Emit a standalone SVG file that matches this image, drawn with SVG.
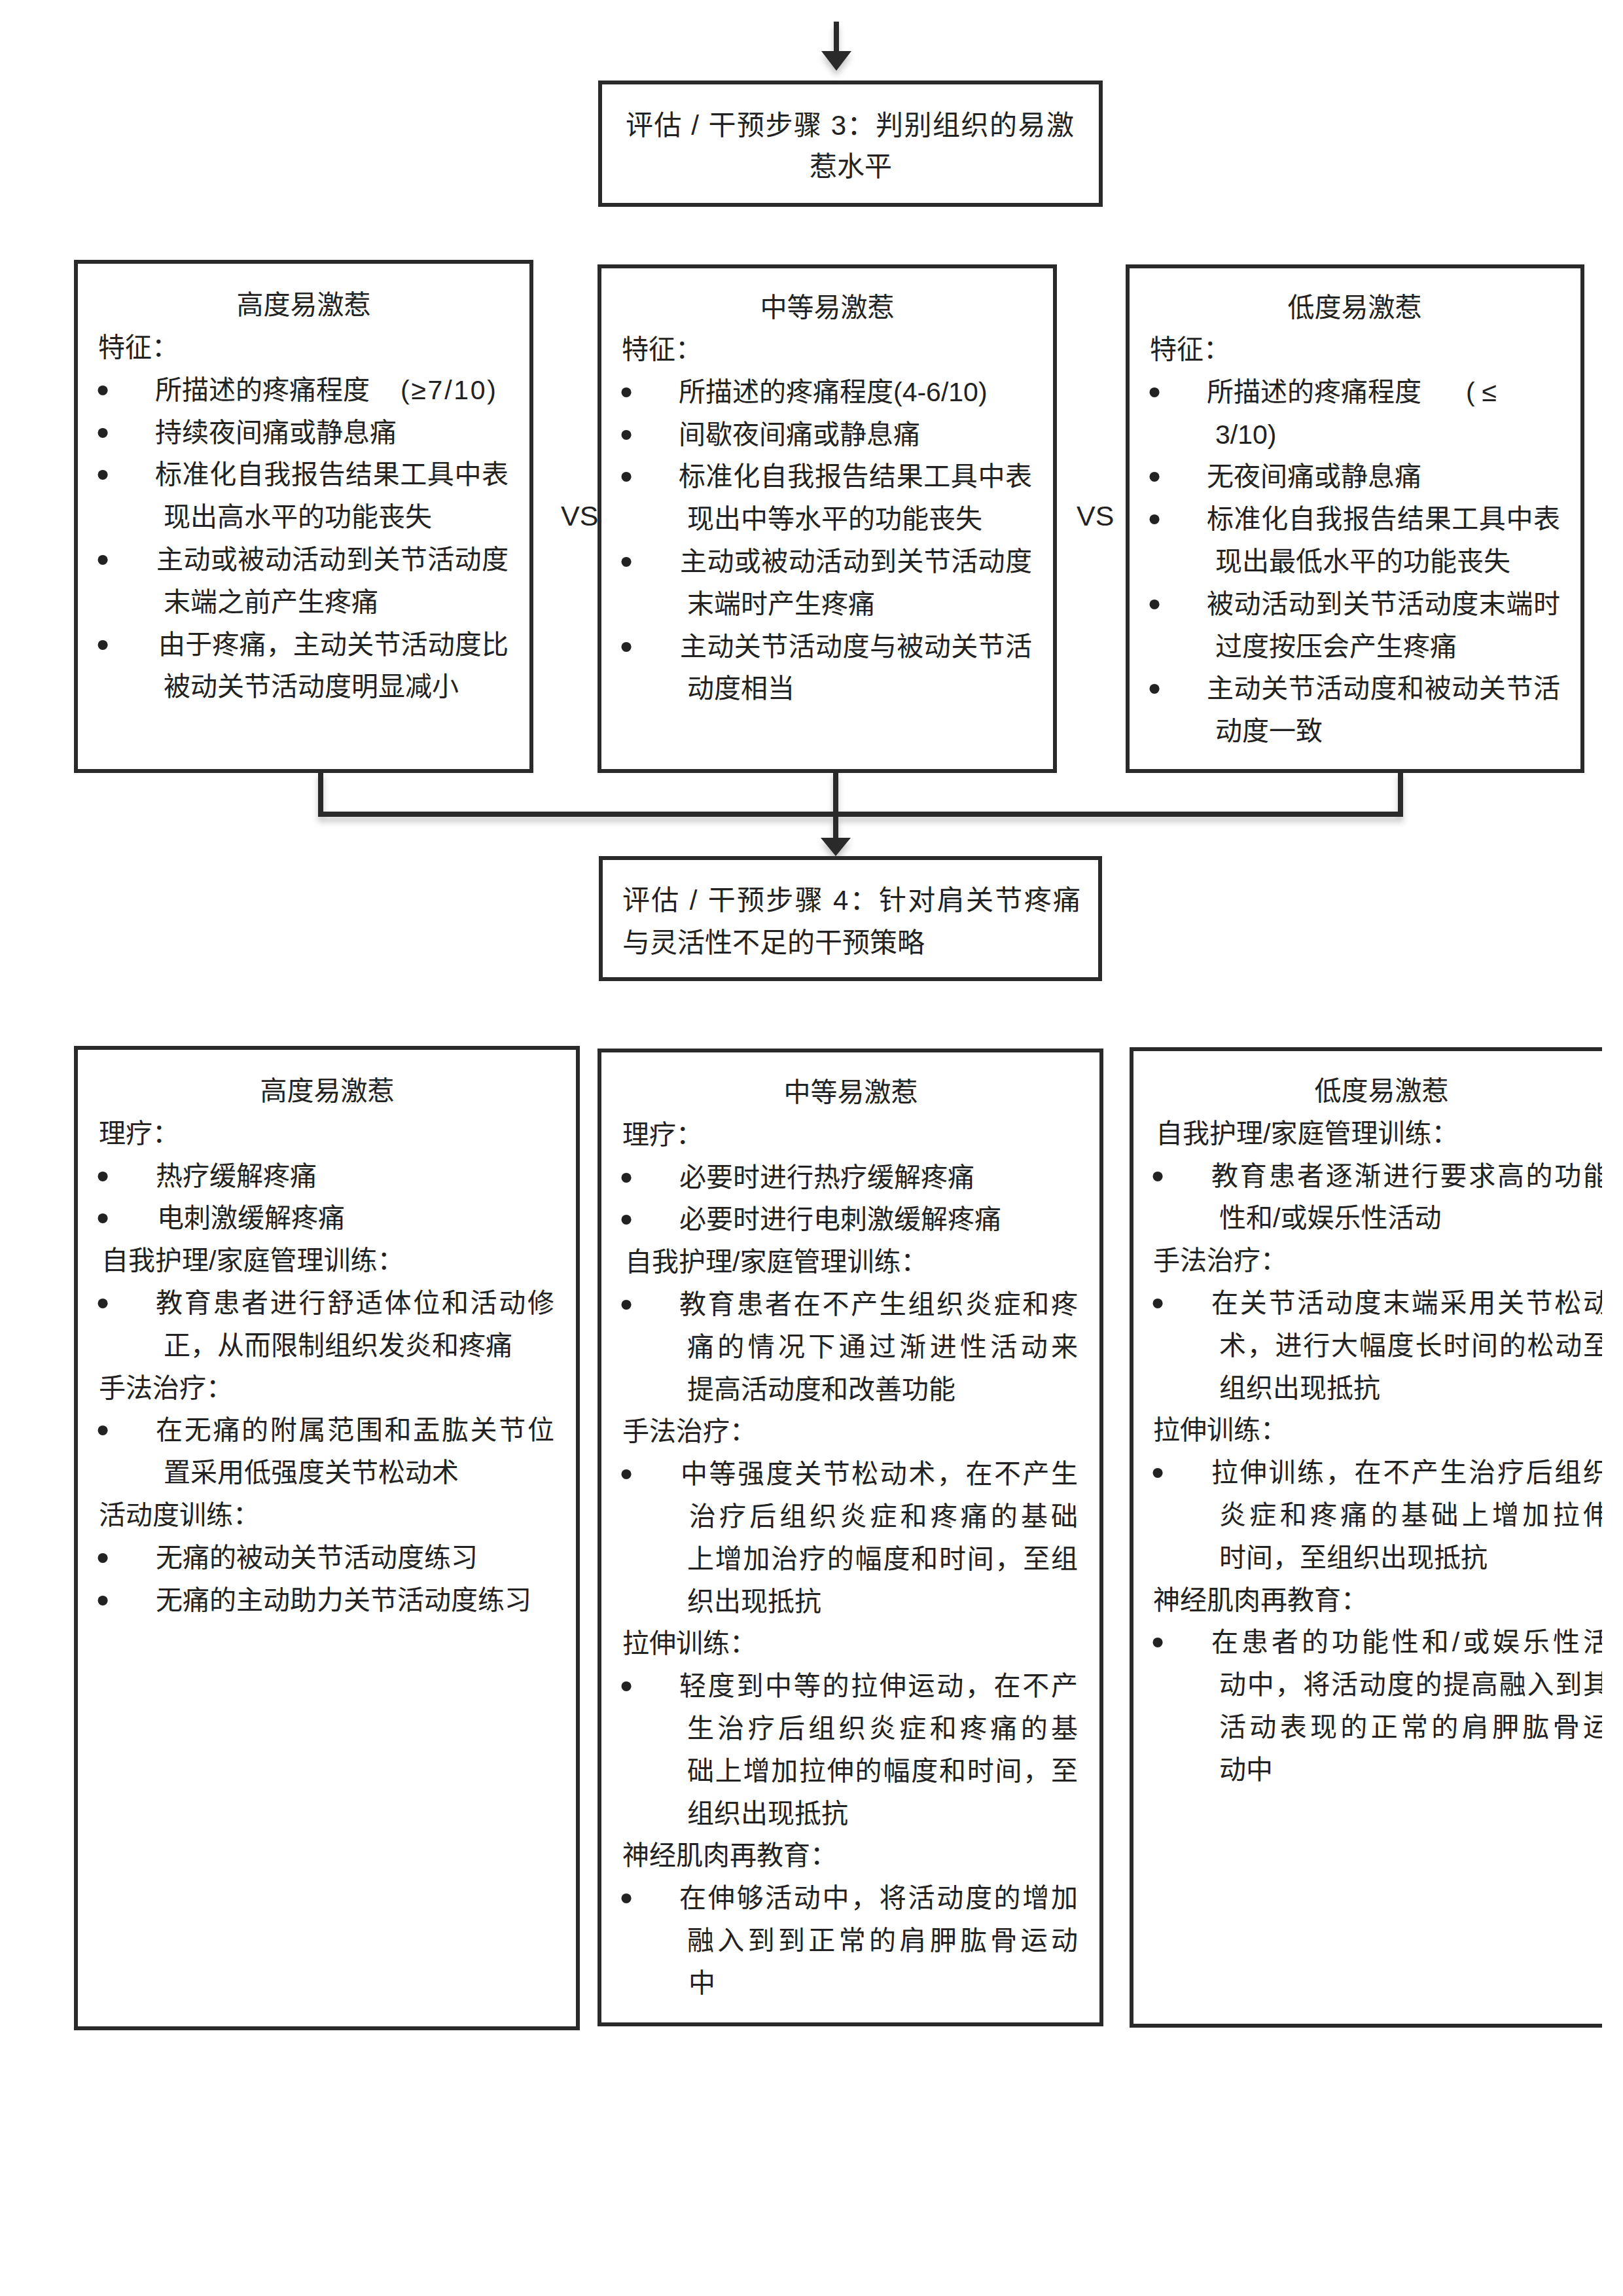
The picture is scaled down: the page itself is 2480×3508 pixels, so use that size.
<svg xmlns="http://www.w3.org/2000/svg" width="2480" height="3508" viewBox="0 0 2480 3508">
<defs>
<style>
.t{font-family:"Liberation Sans","Noto Sans CJK SC",sans-serif;font-size:41px;fill:#222;}
.h{font-size:42px;}
.m{text-anchor:middle;}
.b{font-family:"Liberation Sans",sans-serif;font-size:56px;fill:#222;text-anchor:middle;transform:translateY(5px);}
.box{fill:#fff;stroke:#2a2a2a;stroke-width:6;}
.ln{fill:none;stroke:#2a2a2a;stroke-width:8;}
.ah{fill:#2a2a2a;}
</style>
<filter id="sh" x="-20%" y="-50%" width="140%" height="300%">
<feDropShadow dx="0" dy="8" stdDeviation="5" flood-color="#000" flood-opacity="0.22"/>
</filter>
<clipPath id="pageclip"><rect x="0" y="0" width="2448" height="3508"/></clipPath>
</defs>
<rect x="0" y="0" width="2480" height="3508" fill="#fff"/>

<g id="connectors" filter="url(#sh)">
<line class="ln" x1="1278" y1="33" x2="1278" y2="80"/>
<polygon class="ah" points="1255,78 1301,78 1278,108"/>
<path class="ln" d="M490 1178 V1244 H2140 V1178"/>
<line class="ln" x1="1277" y1="1178" x2="1277" y2="1282"/>
<polygon class="ah" points="1254,1280 1300,1280 1277,1308"/>
</g>

<g id="step3">
<rect class="box" x="917" y="126" width="765" height="187"/>
<text class="t h" x="956" y="206" textLength="685" lengthAdjust="spacing">评估 / 干预步骤 3：判别组织的易激</text>
<text class="t h m" x="1300" y="269">惹水平</text>
</g>

<g id="high-char">
<rect class="box" x="116" y="400" width="696" height="778"/>
<text class="t m" x="464" y="480">高度易激惹</text>
<text class="t" x="150" y="545">特征：</text>
<text class="b" x="157" y="610">•</text>
<text class="t" y="610"><tspan x="237">所描述的疼痛程度</tspan><tspan x="612" textLength="146" lengthAdjust="spacing">(≥7/10)</tspan></text>
<text class="b" x="157" y="675">•</text>
<text class="t" x="237" y="675">持续夜间痛或静息痛</text>
<text class="b" x="157" y="739">•</text>
<text class="t" x="237" y="739" textLength="540" lengthAdjust="spacing">标准化自我报告结果工具中表</text>
<text class="t" x="250" y="804">现出高水平的功能丧失</text>
<text class="b" x="157" y="869">•</text>
<text class="t" x="239" y="869" textLength="538" lengthAdjust="spacing">主动或被动活动到关节活动度</text>
<text class="t" x="250" y="934">末端之前产生疼痛</text>
<text class="b" x="157" y="999">•</text>
<text class="t" x="242" y="999" textLength="535" lengthAdjust="spacing">由于疼痛，主动关节活动度比</text>
<text class="t" x="250" y="1063">被动关节活动度明显减小</text>
</g>

<text class="t" x="857" y="803" style="font-size:43px">VS</text>
<text class="t" x="1645" y="803" style="font-size:43px">VS</text>

<g id="medium-char">
<rect class="box" x="916" y="407" width="696" height="771"/>
<text class="t m" x="1264" y="484">中等易激惹</text>
<text class="t" x="950" y="548">特征：</text>
<text class="b" x="957" y="613">•</text>
<text class="t" y="613"><tspan x="1037">所描述的疼痛程度</tspan><tspan x="1365">(4-6/10)</tspan></text>
<text class="b" x="957" y="678">•</text>
<text class="t" x="1037" y="678">间歇夜间痛或静息痛</text>
<text class="b" x="957" y="742">•</text>
<text class="t" x="1037" y="742" textLength="540" lengthAdjust="spacing">标准化自我报告结果工具中表</text>
<text class="t" x="1050" y="807">现出中等水平的功能丧失</text>
<text class="b" x="957" y="872">•</text>
<text class="t" x="1039" y="872" textLength="538" lengthAdjust="spacing">主动或被动活动到关节活动度</text>
<text class="t" x="1050" y="937">末端时产生疼痛</text>
<text class="b" x="957" y="1002">•</text>
<text class="t" x="1039" y="1002" textLength="538" lengthAdjust="spacing">主动关节活动度与被动关节活</text>
<text class="t" x="1050" y="1066">动度相当</text>
</g>

<g id="low-char">
<rect class="box" x="1723" y="407" width="695" height="771"/>
<text class="t m" x="2070" y="484">低度易激惹</text>
<text class="t" x="1757" y="548">特征：</text>
<text class="b" x="1764" y="613">•</text>
<text class="t" y="613"><tspan x="1844">所描述的疼痛程度</tspan><tspan x="2240" textLength="47" lengthAdjust="spacing">(≤</tspan></text>
<text class="t" x="1857" y="678">3/10)</text>
<text class="b" x="1764" y="742">•</text>
<text class="t" x="1844" y="742">无夜间痛或静息痛</text>
<text class="b" x="1764" y="807">•</text>
<text class="t" x="1844" y="807" textLength="540" lengthAdjust="spacing">标准化自我报告结果工具中表</text>
<text class="t" x="1857" y="872">现出最低水平的功能丧失</text>
<text class="b" x="1764" y="937">•</text>
<text class="t" x="1844" y="937" textLength="540" lengthAdjust="spacing">被动活动到关节活动度末端时</text>
<text class="t" x="1857" y="1002">过度按压会产生疼痛</text>
<text class="b" x="1764" y="1066">•</text>
<text class="t" x="1844" y="1066" textLength="540" lengthAdjust="spacing">主动关节活动度和被动关节活</text>
<text class="t" x="1857" y="1131">动度一致</text>
</g>

<g id="step4">
<rect class="box" x="918" y="1311" width="763" height="185"/>
<text class="t h" x="951" y="1390" textLength="700" lengthAdjust="spacing">评估 / 干预步骤 4：针对肩关节疼痛</text>
<text class="t h" x="951" y="1455">与灵活性不足的干预策略</text>
</g>

<g id="high-treat">
<rect class="box" x="116" y="1601" width="767" height="1498"/>
<text class="t m" x="500" y="1681">高度易激惹</text>
<text class="t" x="151" y="1746">理疗：</text>
<text class="b" x="157" y="1811">•</text>
<text class="t" x="238" y="1811">热疗缓解疼痛</text>
<text class="b" x="157" y="1875">•</text>
<text class="t" x="240" y="1875">电刺激缓解疼痛</text>
<text class="t" x="155" y="1940">自我护理/家庭管理训练：</text>
<text class="b" x="157" y="2005">•</text>
<text class="t" x="238" y="2005" textLength="609" lengthAdjust="spacing">教育患者进行舒适体位和活动修</text>
<text class="t" x="250" y="2070">正，从而限制组织发炎和疼痛</text>
<text class="t" x="151" y="2135">手法治疗：</text>
<text class="b" x="157" y="2199">•</text>
<text class="t" x="238" y="2199" textLength="609" lengthAdjust="spacing">在无痛的附属范围和盂肱关节位</text>
<text class="t" x="250" y="2264">置采用低强度关节松动术</text>
<text class="t" x="151" y="2329">活动度训练：</text>
<text class="b" x="157" y="2394">•</text>
<text class="t" x="238" y="2394">无痛的被动关节活动度练习</text>
<text class="b" x="157" y="2459">•</text>
<text class="t" x="238" y="2459">无痛的主动助力关节活动度练习</text>
</g>

<g id="medium-treat">
<rect class="box" x="916" y="1605" width="767" height="1488"/>
<text class="t m" x="1300" y="1683">中等易激惹</text>
<text class="t" x="951" y="1748">理疗：</text>
<text class="b" x="957" y="1813">•</text>
<text class="t" x="1038" y="1813">必要时进行热疗缓解疼痛</text>
<text class="b" x="957" y="1877">•</text>
<text class="t" x="1038" y="1877">必要时进行电刺激缓解疼痛</text>
<text class="t" x="955" y="1942">自我护理/家庭管理训练：</text>
<text class="b" x="957" y="2007">•</text>
<text class="t" x="1038" y="2007" textLength="609" lengthAdjust="spacing">教育患者在不产生组织炎症和疼</text>
<text class="t" x="1050" y="2072" textLength="597" lengthAdjust="spacing">痛的情况下通过渐进性活动来</text>
<text class="t" x="1050" y="2137">提高活动度和改善功能</text>
<text class="t" x="951" y="2201">手法治疗：</text>
<text class="b" x="957" y="2266">•</text>
<text class="t" x="1040" y="2266" textLength="607" lengthAdjust="spacing">中等强度关节松动术，在不产生</text>
<text class="t" x="1053" y="2331" textLength="594" lengthAdjust="spacing">治疗后组织炎症和疼痛的基础</text>
<text class="t" x="1050" y="2396" textLength="597" lengthAdjust="spacing">上增加治疗的幅度和时间，至组</text>
<text class="t" x="1050" y="2461">织出现抵抗</text>
<text class="t" x="951" y="2525">拉伸训练：</text>
<text class="b" x="957" y="2590">•</text>
<text class="t" x="1038" y="2590" textLength="609" lengthAdjust="spacing">轻度到中等的拉伸运动，在不产</text>
<text class="t" x="1050" y="2655" textLength="597" lengthAdjust="spacing">生治疗后组织炎症和疼痛的基</text>
<text class="t" x="1050" y="2720" textLength="597" lengthAdjust="spacing">础上增加拉伸的幅度和时间，至</text>
<text class="t" x="1050" y="2785">组织出现抵抗</text>
<text class="t" x="951" y="2849">神经肌肉再教育：</text>
<text class="b" x="957" y="2914">•</text>
<text class="t" x="1038" y="2914" textLength="609" lengthAdjust="spacing">在伸够活动中，将活动度的增加</text>
<text class="t" x="1050" y="2979" textLength="597" lengthAdjust="spacing">融入到到正常的肩胛肱骨运动</text>
<text class="t" x="1052" y="3044">中</text>
</g>

<g id="low-treat" clip-path="url(#pageclip)">
<path class="box" d="M2460 1603 H1729 V3095 H2460"/>
<text class="t m" x="2111" y="1681">低度易激惹</text>
<text class="t" x="1766" y="1746">自我护理/家庭管理训练：</text>
<text class="b" x="1769" y="1811">•</text>
<text class="t" x="1851" y="1811" textLength="609" lengthAdjust="spacing">教育患者逐渐进行要求高的功能</text>
<text class="t" x="1863" y="1875">性和/或娱乐性活动</text>
<text class="t" x="1762" y="1940">手法治疗：</text>
<text class="b" x="1769" y="2005">•</text>
<text class="t" x="1851" y="2005" textLength="609" lengthAdjust="spacing">在关节活动度末端采用关节松动</text>
<text class="t" x="1863" y="2070" textLength="597" lengthAdjust="spacing">术，进行大幅度长时间的松动至</text>
<text class="t" x="1863" y="2135">组织出现抵抗</text>
<text class="t" x="1762" y="2199">拉伸训练：</text>
<text class="b" x="1769" y="2264">•</text>
<text class="t" x="1851" y="2264" textLength="609" lengthAdjust="spacing">拉伸训练，在不产生治疗后组织</text>
<text class="t" x="1863" y="2329" textLength="597" lengthAdjust="spacing">炎症和疼痛的基础上增加拉伸</text>
<text class="t" x="1863" y="2394">时间，至组织出现抵抗</text>
<text class="t" x="1762" y="2459">神经肌肉再教育：</text>
<text class="b" x="1769" y="2523">•</text>
<text class="t" x="1851" y="2523" textLength="609" lengthAdjust="spacing">在患者的功能性和/或娱乐性活</text>
<text class="t" x="1863" y="2588" textLength="597" lengthAdjust="spacing">动中，将活动度的提高融入到其</text>
<text class="t" x="1863" y="2653" textLength="597" lengthAdjust="spacing">活动表现的正常的肩胛肱骨运</text>
<text class="t" x="1863" y="2718">动中</text>
</g>
</svg>
